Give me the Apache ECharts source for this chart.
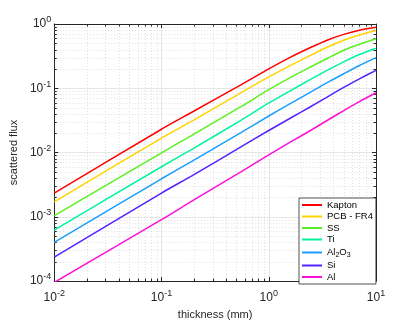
<!DOCTYPE html>
<html><head><meta charset="utf-8">
<script src="https://cdn.jsdelivr.net/npm/echarts@6/dist/echarts.min.js"></script>
<style>html,body{margin:0;padding:0;background:#fff}#c{width:415px;height:325px}</style>
</head><body><div id="c"></div>
<script>
const thickness = [0.01, 0.1, 0.19, 0.55, 1, 1.6, 2.45, 3.5, 5, 7, 10];
const seriesNames = ['Kapton', 'PCB - FR4', 'SS', 'Ti', 'Al2O3', 'Si', 'Al'];
const kapton = [0.00234, 0.023, 0.0419, 0.113, 0.20, 0.305, 0.43, 0.56, 0.69, 0.80, 0.89];
const pcb    = [0.00171, 0.0168, 0.0306, 0.085, 0.15, 0.227, 0.325, 0.435, 0.56, 0.675, 0.79];
const ss     = [0.00104, 0.0099, 0.0183, 0.0516, 0.095, 0.148, 0.214, 0.29, 0.39, 0.485, 0.59];
const ti     = [0.00062, 0.006, 0.0111, 0.0317, 0.059, 0.092, 0.137, 0.19, 0.258, 0.335, 0.42];
const al2o3  = [0.0004, 0.0039, 0.0072, 0.0204, 0.037, 0.058, 0.087, 0.122, 0.168, 0.226, 0.30];
const si     = [0.000235, 0.00234, 0.0043, 0.0122, 0.022, 0.0344, 0.0515, 0.073, 0.103, 0.14, 0.19];
const al     = [0.000095, 0.0009, 0.00173, 0.005, 0.0092, 0.0146, 0.022, 0.0315, 0.045, 0.062, 0.085];
const allValues = [kapton, pcb, ss, ti, al2o3, si, al];
const colors = ['#ff0000', '#ffd400', '#5cf020', '#00f59a', '#1a9fff', '#5522ff', '#ff10d8'];

const FONT = 'Liberation Sans';
const supFmt = v => '10{sup|' + Math.round(Math.log10(v)) + '}';
const labelRich = { sup: { fontSize: 9, verticalAlign: 'top', padding: [0, 0, 8, 0], fontFamily: FONT, color: '#262626' } };

const minorX = [], minorY = [];
for (let d = -2; d < 1; d++) for (let k = 2; k <= 9; k++) minorX.push(k * Math.pow(10, d));
for (let d = -4; d < 0; d++) for (let k = 2; k <= 9; k++) minorY.push(k * Math.pow(10, d));

const chart = echarts.init(document.getElementById('c'), null, { renderer: 'canvas' });

const series = seriesNames.map((n, i) => ({
  name: n, type: 'line', xAxisIndex: 0, yAxisIndex: 0,
  data: thickness.map((t, j) => [t, allValues[i][j]]),
  showSymbol: false, smooth: 0.2, z: 5,
  lineStyle: { width: 1.5, color: colors[i] }, itemStyle: { color: colors[i] }
}));

series.push({
  type: 'custom', xAxisIndex: 0, yAxisIndex: 0, silent: true, z: 1,
  data: [[0.01, 0.0001]],
  renderItem: function (params, api) {
    const ch = [];
    const a = api.coord([0.01, 0.0001]), b = api.coord([10, 1]);
    const grid = { stroke: '#e0e0e0', lineWidth: 1, lineDash: [1, 2] };
    const tick = { stroke: '#262626', lineWidth: 1 };
    minorX.forEach(v => {
      const x = Math.round(api.coord([v, 0.0001])[0]) + 0.5;
      ch.push({ type: 'line', shape: { x1: x, y1: b[1], x2: x, y2: a[1] }, style: grid });
      ch.push({ type: 'line', shape: { x1: x, y1: a[1], x2: x, y2: a[1] - 2.5 }, style: tick });
      ch.push({ type: 'line', shape: { x1: x, y1: b[1], x2: x, y2: b[1] + 2.5 }, style: tick });
    });
    minorY.forEach(v => {
      const y = Math.round(api.coord([0.01, v])[1]) + 0.5;
      ch.push({ type: 'line', shape: { x1: a[0], y1: y, x2: b[0], y2: y }, style: grid });
      ch.push({ type: 'line', shape: { x1: a[0], y1: y, x2: a[0] + 2.5, y2: y }, style: tick });
      ch.push({ type: 'line', shape: { x1: b[0], y1: y, x2: b[0] - 2.5, y2: y }, style: tick });
    });
    return { type: 'group', children: ch };
  }
});

const axisCommon = {
  type: 'log', logBase: 10,
  axisLine: { show: true, onZero: false, lineStyle: { color: '#262626', width: 1 } },
  axisTick: { show: true, inside: true, length: 4, lineStyle: { color: '#262626' } },
  splitLine: { show: false },
  minorTick: { show: false }, minorSplitLine: { show: false }
};

chart.setOption({
  animation: false,
  backgroundColor: '#ffffff',
  color: colors,
  grid: { left: 54, top: 24, right: 39, bottom: 36 },
  legend: {
    orient: 'vertical', left: 299, top: 198,
    data: seriesNames,
    icon: 'rect', itemWidth: 20, itemHeight: 2, itemGap: 1.5,
    padding: [2, 3, 2, 3],
    backgroundColor: '#ffffff', borderColor: '#262626', borderWidth: 0.8, borderRadius: 0,
    textStyle: {
      fontFamily: FONT, fontSize: 9.5, color: '#000', lineHeight: 10,
      rich: { sub: { fontSize: 7, lineHeight: 10, padding: [6, 0, 0, 0], fontFamily: FONT, color: '#000' } }
    },
    formatter: n => n === 'Al2O3' ? 'Al{sub|2}O{sub|3}' : n
  },
  xAxis: [
    Object.assign({}, axisCommon, {
      min: 0.01, max: 10, position: 'bottom',
      name: 'thickness (mm)', nameLocation: 'middle', nameGap: 28,
      nameTextStyle: { fontFamily: FONT, fontSize: 11, color: '#262626' },
      axisLabel: { fontFamily: FONT, fontSize: 12, color: '#262626', margin: 8, formatter: supFmt, rich: labelRich },
      splitLine: { show: true, lineStyle: { color: '#e6e6e6', width: 1 } }
    }),
    Object.assign({}, axisCommon, { min: 0.01, max: 10, position: 'top', axisLabel: { show: false } })
  ],
  yAxis: [
    Object.assign({}, axisCommon, {
      min: 0.0001, max: 1, position: 'left',
      name: 'scattered flux', nameLocation: 'middle', nameGap: 26,
      nameTextStyle: { fontFamily: FONT, fontSize: 11, color: '#262626' },
      axisLabel: { fontFamily: FONT, fontSize: 12, color: '#262626', margin: 3, formatter: supFmt, rich: labelRich },
      splitLine: { show: true, lineStyle: { color: '#e6e6e6', width: 1 } }
    }),
    Object.assign({}, axisCommon, { min: 0.0001, max: 1, position: 'right', axisLabel: { show: false } })
  ],
  series: series
});
</script></body></html>
